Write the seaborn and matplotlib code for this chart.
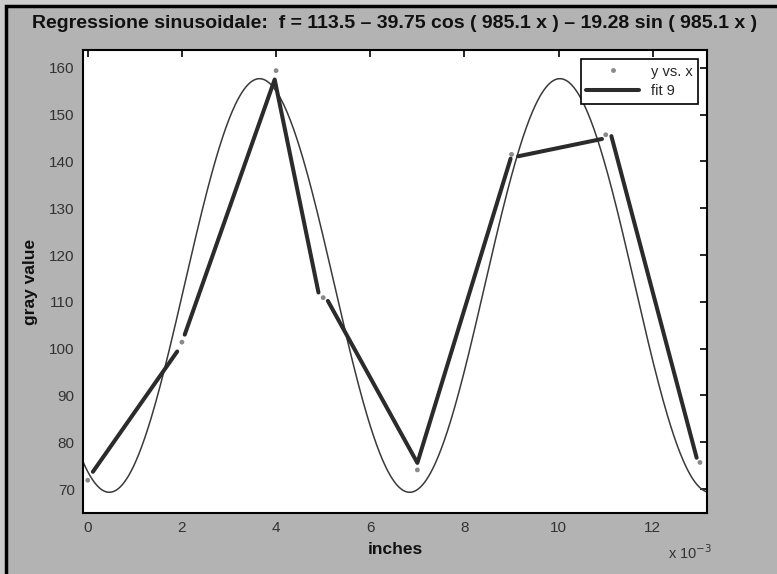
import numpy as np
import pandas as pd
import matplotlib
matplotlib.use("Agg")
import matplotlib.pyplot as plt
import seaborn as sns
from matplotlib.patches import Rectangle
from matplotlib.lines import Line2D

# ---- data (x in units of 1e-3 inches) ----
x_pts = [0, 2, 4, 5, 7, 9, 11, 13]
y_pts = [71.9, 101.4, 159.4, 110.9, 74.1, 141.5, 145.7, 75.7]

# "fit 9" polyline segments
fit_x = [0.11, 1.90, 2.06, 3.97, 4.90, 5.10, 7.00, 8.98, 9.14, 10.92, 11.12, 12.93]
fit_y = [73.7, 99.4, 103.0, 157.5, 112.0, 110.2, 75.6, 140.6, 141.1, 144.8, 145.4, 76.7]
fit_seg = [0, 0, 1, 1, 1, 2, 2, 2, 3, 3, 4, 4]

# sinusoidal regression coefficients (from title)
c0, c_cos, c_sin, omega = 113.5, 39.75, 19.28, 985.1

xticks = [0, 2, 4, 6, 8, 10, 12]
yticks = [70, 80, 90, 100, 110, 120, 130, 140, 150, 160]

sns.set_theme(style="white")
plt.rcParams['font.family'] = ['Liberation Sans', 'DejaVu Sans']

fig = plt.figure(figsize=(7.77, 5.74), dpi=100)
fig.patch.set_facecolor('#cccccc')
W, H = 777, 574
fig.patches.append(Rectangle((6 / W, -0.1), 1.2, 1.1 - 6 / H, transform=fig.transFigure,
                             facecolor='#b3b3b3', edgecolor='black', linewidth=2.5,
                             zorder=-10))

ax = fig.add_axes([83 / W, 1 - 513 / H, (707 - 83) / W, (513 - 50) / H])
ax.set_facecolor('white')

xs = np.linspace(-0.2, 13.3, 600)
curve = c0 - c_cos * np.cos(omega * xs * 1e-3) - c_sin * np.sin(omega * xs * 1e-3)
sns.lineplot(x=xs, y=curve, ax=ax, color='#3a3a3a', linewidth=1.1, legend=False)

fit_df = pd.DataFrame({'x': fit_x, 'y': fit_y, 'seg': fit_seg})
sns.lineplot(data=fit_df, x='x', y='y', units='seg', estimator=None, sort=False,
             ax=ax, color='#2b2b2b', linewidth=2.9, legend=False)

sns.scatterplot(x=x_pts, y=y_pts, ax=ax, color='#8a8a8a', s=12, marker='o',
                edgecolor='none', zorder=5, legend=False)

ax.set_xlim(-0.1, 13.15)
ax.set_ylim(64.9, 163.8)
ax.set_xticks(xticks)
ax.set_yticks(yticks)
ax.tick_params(direction='in', length=5, width=1.2, top=True, right=True,
               labelsize=11, labelcolor='#333333', color='black', pad=6)
for s in ax.spines.values():
    s.set_color('black')
    s.set_linewidth(1.5)

ax.set_xlabel('inches', fontsize=12.5, fontweight='bold', color='#111111', labelpad=5)
ax.set_ylabel('gray value', fontsize=12.5, fontweight='bold', color='#111111', labelpad=8)
fig.text(668 / W, 1 - 553 / H, r'x 10$^{-3}$', fontsize=10.5, color='#333333', va='center')

fig.text(395 / W, 1 - 23 / H,
         'Regressione sinusoidale:  f = 113.5 \u2013 39.75 cos ( 985.1 x ) \u2013 19.28 sin ( 985.1 x )',
         ha='center', va='center', fontsize=14, fontweight='bold', color='#111111')

handles = [Line2D([], [], linestyle='none', marker='o', markersize=3.5,
                  color='#8a8a8a', markeredgecolor='none'),
           Line2D([], [], color='#2b2b2b', linewidth=2.9)]
leg = ax.legend(handles, ['y vs. x', 'fit 9'], loc='upper right', fontsize=10.5,
                frameon=True, fancybox=False, edgecolor='black', framealpha=1,
                borderaxespad=0.6, handlelength=3.6, labelspacing=0.4)
leg.get_frame().set_linewidth(1.2)

fig.savefig('out.png', dpi=100, facecolor=fig.get_facecolor())
